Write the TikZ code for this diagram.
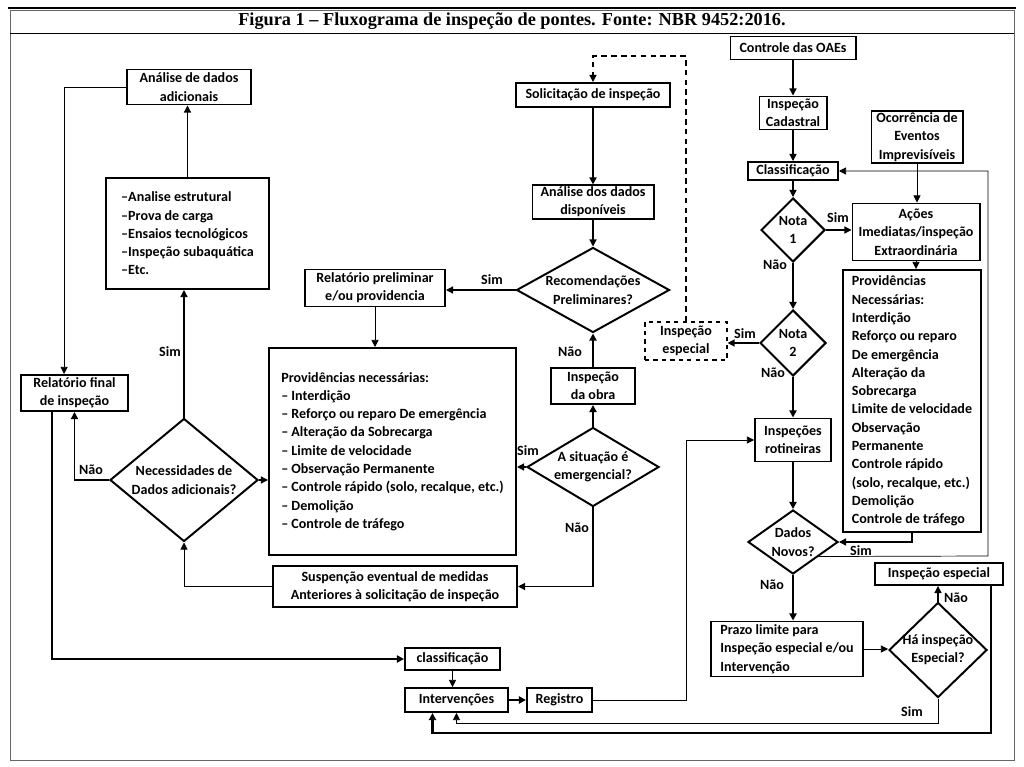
\documentclass[tikz,border=0pt]{standalone}
\usepackage{fontspec}
\setmainfont{Carlito}
\newfontfamily\titlefont{Liberation Serif}
\usetikzlibrary{positioning,arrows.meta,shapes.geometric,calc}
\tikzset{
  box/.style={draw,line width=1.4pt,align=center,inner sep=1pt},
  listbox/.style={box,align=left},
  dbox/.style={draw,dashed,line width=0.8pt,align=center,inner sep=1pt},
  dec/.style={draw,diamond,line width=1.4pt,inner sep=0pt},
  yesno/.style={inner sep=0pt},
  conn/.style={line width=0.9pt,-{Triangle[length=5pt,width=5pt]}},
  connthick/.style={conn,line width=1.5pt},
  connthin/.style={conn,line width=0.5pt},
  dashconn/.style={conn,dash pattern=on 4pt off 3pt}
}

\begin{document}
\begin{tikzpicture}[x=0.025cm,y=-0.025cm,every node/.style={font=\bfseries\fontsize{10}{13}\selectfont}]
    \useasboundingbox (0,0) rectangle (1024,767);
    \fill[white] (0,0) rectangle (1024,767);
    % frame and title
    \draw[black!60,line width=0.6pt] (10,10) rectangle (1014,760);
    \draw[line width=2pt] (8,8) -- (1016,8);
    \draw[line width=0.6pt] (10,33) -- (1014,33);
    \node[font=\titlefont\bfseries\fontsize{13}{15}\selectfont] (title) at (512,21) {Figura 1 – Fluxograma de inspeção de pontes. Fonte: NBR 9452:2016.};

    % right column
    \node[box,minimum width=3.125cm,minimum height=0.575cm] (ctrl) at (793,48) {Controle das OAEs};
    \node[box,minimum width=1.675cm,minimum height=0.825cm] (cad) at (793,113) {Inspeção\\Cadastral};
    \node[box,minimum width=2.275cm,minimum height=1.275cm] (ocor) at (917,137) {Ocorrência de\\Eventos\\Imprevisíveis};
    \node[box,minimum width=2.25cm,minimum height=0.45cm] (clas) at (793,171) {Classificação};
    \node[dec,minimum width=1.6cm,minimum height=1.6cm,label={[align=center]center:Nota\\1}] (nota1) at (793,230) {};
    \node[box,minimum width=3.175cm,minimum height=1.425cm] (acoes) at (916,232) {Ações\\Imediatas/inspeção\\Extraordinária};
    \node[listbox,minimum width=3.45cm,minimum height=6.55cm] (prov2) at (912,401) {Providências\\Necessárias:\\Interdição\\Reforço ou reparo\\De emergência\\Alteração da\\Sobrecarga\\Limite de velocidade\\Observação\\Permanente\\Controle rápido\\(solo, recalque, etc.)\\Demolição\\Controle de tráfego};
    \node[dec,minimum width=1.65cm,minimum height=1.65cm,label={[align=center]center:Nota\\2}] (nota2) at (793,343) {};
    \node[dbox,minimum width=2.05cm,minimum height=0.95cm] (iesp1) at (686,341) {Inspeção\\especial};
    \node[box,minimum width=1.9cm,minimum height=1.075cm] (rot) at (793,440) {Inspeções\\rotineiras};
    \node[dec,minimum width=2.25cm,minimum height=1.6cm,label={[align=center]center:Dados\\Novos?}] (dados) at (793,542) {};
    \node[box,minimum width=3.2cm,minimum height=0.55cm] (iesp2) at (939,574) {Inspeção especial};
    \node[dec,minimum width=2.45cm,minimum height=2.375cm,label={[align=center]center:Há inspeção\\Especial?}] (ha) at (938,650) {};
    \node[listbox,minimum width=3.8cm,minimum height=1.375cm] (prazo) at (787,649) {Prazo limite para\\Inspeção especial e/ou\\Intervenção};

    % bottom row
    \node[box,minimum width=2.375cm,minimum height=0.55cm] (clas2) at (452.5,659) {classificação};
    \node[box,minimum width=2.575cm,minimum height=0.6cm] (intv) at (456.5,700) {Intervenções};
    \node[box,minimum width=1.625cm,minimum height=0.6cm] (reg) at (559.5,700) {Registro};

    % middle column
    \node[box,minimum width=3.85cm,minimum height=0.6cm] (solic) at (593,95) {Solicitação de inspeção};
    \node[box,minimum width=3.025cm,minimum height=0.825cm] (anal) at (593,202) {Análise dos dados\\disponíveis};
    \node[dec,minimum width=3.825cm,minimum height=2.125cm,label={[align=center]center:Recomendações\\Preliminares?}] (recom) at (593,290) {};
    \node[box,minimum width=3.5cm,minimum height=0.925cm] (relp) at (375,288) {Relatório preliminar\\e/ou providencia};
    \node[box,minimum width=2.1cm,minimum height=0.9cm] (obra) at (593,386) {Inspeção\\da obra};
    \node[dec,minimum width=3.3cm,minimum height=1.975cm,label={[align=center]center:A situação é\\emergencial?}] (situ) at (593,467) {};
    \node[listbox,minimum width=6.175cm,minimum height=5.175cm] (prov1) at (392.5,451.5) {Providências necessárias:\\– Interdição\\– Reforço ou reparo De emergência\\– Alteração da Sobrecarga\\– Limite de velocidade\\– Observação Permanente\\– Controle rápido (solo, recalque, etc.)\\– Demolição\\– Controle de tráfego};
    \node[box,minimum width=6.1cm,minimum height=1.025cm] (susp) at (395,586.5) {Suspenção eventual de medidas\\Anteriores à solicitação de inspeção};

    % left column
    \node[box,minimum width=3.1cm,minimum height=0.875cm] (anad) at (189,87) {Análise de dados\\adicionais};
    \node[listbox,minimum width=4.075cm,minimum height=2.775cm] (lista) at (187.5,233.5) {–Analise estrutural\\–Prova de carga\\–Ensaios tecnológicos\\–Inspeção subaquática\\–Etc.};
    \node[dec,minimum width=3.7cm,minimum height=3.075cm,label={[align=center]center:Necessidades de\\Dados adicionais?}] (nec) at (184,480) {};
    \node[box,minimum width=2.675cm,minimum height=0.9cm] (relf) at (74.5,393) {Relatório final\\de inspeção};

    % yes / no labels
    \node[yesno] (n1s) at (838,218) {Sim};
    \node[yesno] (n1n) at (775,265) {Não};
    \node[yesno] (n2s) at (745,334) {Sim};
    \node[yesno] (n2n) at (773,373) {Não};
    \node[yesno] (dns) at (861,551) {Sim};
    \node[yesno] (dnn) at (772,585) {Não};
    \node[yesno] (han) at (956,598) {Não};
    \node[yesno] (has) at (912,712) {Sim};
    \node[yesno] (rcs) at (492,280) {Sim};
    \node[yesno] (rcn) at (570,352) {Não};
    \node[yesno] (sis) at (528,451) {Sim};
    \node[yesno] (sin) at (577,528) {Não};
    \node[yesno] (nes) at (170,352) {Sim};
    \node[yesno] (nen) at (91,470) {Não};

    % right column connectors
    \draw[conn] (ctrl) -- (cad);
    \draw[conn] (cad) -- (clas);
    \draw[conn] (clas) -- (nota1);
    \draw[conn] (nota1.east) -- (nota1.east -| acoes.west);
    \draw[connthin] (ocor) -- (ocor |- acoes.north);
    \draw[connthin] (acoes) -- (acoes |- prov2.north);
    \draw[connthick] (nota1) -- (nota2);
    \draw[conn] (nota2.west) -- (nota2.west -| iesp1.east);
    \draw[connthick] (nota2) -- (rot);
    \draw[connthick] (rot) -- (dados);
    \draw[conn] (prov2.south) |- (dados.east);
    \coordinate (dsim) at ($(dados.east)!0.44!(dados.south)$);
    \coordinate (rback) at (988,556);
    \draw[connthin] (dsim) -- (rback) |- (clas.east);
    \draw[connthick] (dados) -- (dados |- prazo.north);
    \draw[connthin] (prazo.east) -- (prazo.east -| ha.west);
    \draw[conn] (ha.north) -- (ha.north |- iesp2.south);
    \draw[connthin] (ha.south) -- ++(0,25) -| (intv.south);
    \draw[connthick] ([xshift=-0.325cm]iesp2.south east) -- ++(0,147) -| ([xshift=-0.6cm]intv.south);

    % bottom connectors
    \draw[connthick] (intv) -- (reg);
    \draw[connthin] (clas2) -- (clas2 |- intv.north);
    \draw[connthin] (reg.east) -- ++(93,0) |- (rot.west);
    \draw[connthick] ([xshift=-0.56cm]relf.south) |- (clas2.west);

    % left connectors
    \draw[connthin] (anad.west) -| ([xshift=-0.26cm]relf.north);
    \draw[conn] (nec.west) -| (relf.south);
    \draw[conn] (nec.north) -- (nec.north |- lista.south);
    \draw[conn] (lista.north) -- (lista.north |- anad.south);
    \draw[conn] (nec.east) -- (nec.east -| prov1.west);
    \draw[connthin] (susp.west) -| (nec.south);

    % middle connectors
    \coordinate (dtop) at (593,56);
    \draw[dashconn] (iesp1.north) |- (dtop) -- (solic.north);
    \draw[connthick] (solic) -- (anal);
    \draw[conn] (anal) -- (recom);
    \draw[conn] (recom.west) -- (recom.west -| relp.east);
    \draw[connthin] (relp) -- (relp |- prov1.north);
    \draw[connthick] (obra) -- (recom);
    \draw[connthick] (situ) -- (obra);
    \draw[conn] (situ.west) -- (situ.west -| prov1.east);
    \draw[conn] (situ.south) |- (susp.east);
  \end{tikzpicture}
\end{document}
